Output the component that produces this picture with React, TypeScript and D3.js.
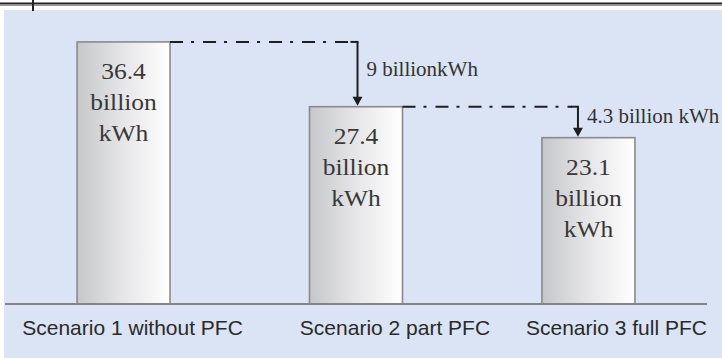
import React from "react";
import * as d3 from "d3";

const categories = ["Scenario 1 without PFC", "Scenario 2 part PFC", "Scenario 3 full PFC"];
const values = [36.4, 27.4, 23.1];
const valueLabels = ["36.4", "27.4", "23.1"];
const unitLines = ["billion", "kWh"];
const savings = ["9 billionkWh", "4.3 billion kWh"];

const W = 722;
const H = 358;

export default function App() {
  const x = d3.scaleBand<string>().domain(categories).range([5, 707]).paddingInner(0.6).paddingOuter(0.31);
  const y = d3.scaleLinear().domain([0, 40]).range([304, 16]);
  const bw = x.bandwidth();

  const labelDx = [9, 39, 28];
  const arrowDx = [48, 36];
  const serif = "'Liberation Serif', 'Times New Roman', serif";
  const sans = "'Liberation Sans', Arial, sans-serif";

  return (
    <svg width={W} height={H} style={{ position: "absolute", left: 0, top: 0, background: "#fff" }}>
      <defs>
        <linearGradient id="barGrad" x1="0" x2="1" y1="0" y2="0">
          <stop offset="0" stopColor="#c6c7ca" />
          <stop offset="0.5" stopColor="#e6e6e8" />
          <stop offset="1" stopColor="#ffffff" />
        </linearGradient>
      </defs>
      <rect x={4} y={10} width={W - 4} height={H - 10} fill="#dae4f5" />
      <line x1={0} x2={W} y1={3.5} y2={3.5} stroke="#222" strokeWidth={2} />
      <line x1={0} x2={W} y1={5.5} y2={5.5} stroke="#999" strokeWidth={1} />
      <line x1={33} x2={33} y1={0} y2={11} stroke="#222" strokeWidth={2} />

      {categories.map((c, i) => {
        const x0 = x(c)!;
        const cx = x0 + bw / 2;
        const top = y(values[i]);
        return (
          <g key={c}>
            <rect x={x0} y={top} width={bw} height={y(0) - top} fill="url(#barGrad)" stroke="#8a8a8c" strokeWidth={1.6} />
            {[valueLabels[i], ...unitLines].map((t, j) => (
              <text
                key={j}
                x={0}
                y={0}
                transform={`translate(${cx},${top + 37 + j * 31}) scale(1.11,1)`}
                textAnchor="middle"
                fontFamily={serif}
                fontSize={23}
                fill="#383838"
              >
                {t}
              </text>
            ))}
            <text
              x={cx + labelDx[i]}
              y={335}
              textAnchor="middle"
              fontFamily={sans}
              fontSize={21}
              fill="#2a2a2a"
            >
              {c}
            </text>
          </g>
        );
      })}

      <line x1={5} x2={707} y1={304} y2={304} stroke="#858585" strokeWidth={2} />

      {savings.map((s, i) => {
        const from = categories[i];
        const to = categories[i + 1];
        const yTop = y(values[i]);
        const yEnd = y(values[i + 1]);
        const xs = x(from)! + bw;
        const ax = x(to)! + arrowDx[i];
        return (
          <g key={s}>
            <line x1={xs} x2={ax - 6} y1={yTop} y2={yTop} stroke="#1e1e1e" strokeWidth={2} strokeDasharray="13 8 3 9" />
            <line x1={ax - 7} x2={ax + 1} y1={yTop} y2={yTop} stroke="#1e1e1e" strokeWidth={2} />
            <line x1={ax} x2={ax} y1={yTop} y2={yEnd - 8} stroke="#1e1e1e" strokeWidth={2} />
            <path d={`M${ax - 5},${yEnd - 10} L${ax + 5},${yEnd - 10} L${ax},${yEnd - 1} Z`} fill="#1e1e1e" />
            <text x={ax + 9} y={yTop + (i === 0 ? 34 : 16)} fontFamily={serif} fontSize={21} fill="#333">
              {s}
            </text>
          </g>
        );
      })}
    </svg>
  );
}
